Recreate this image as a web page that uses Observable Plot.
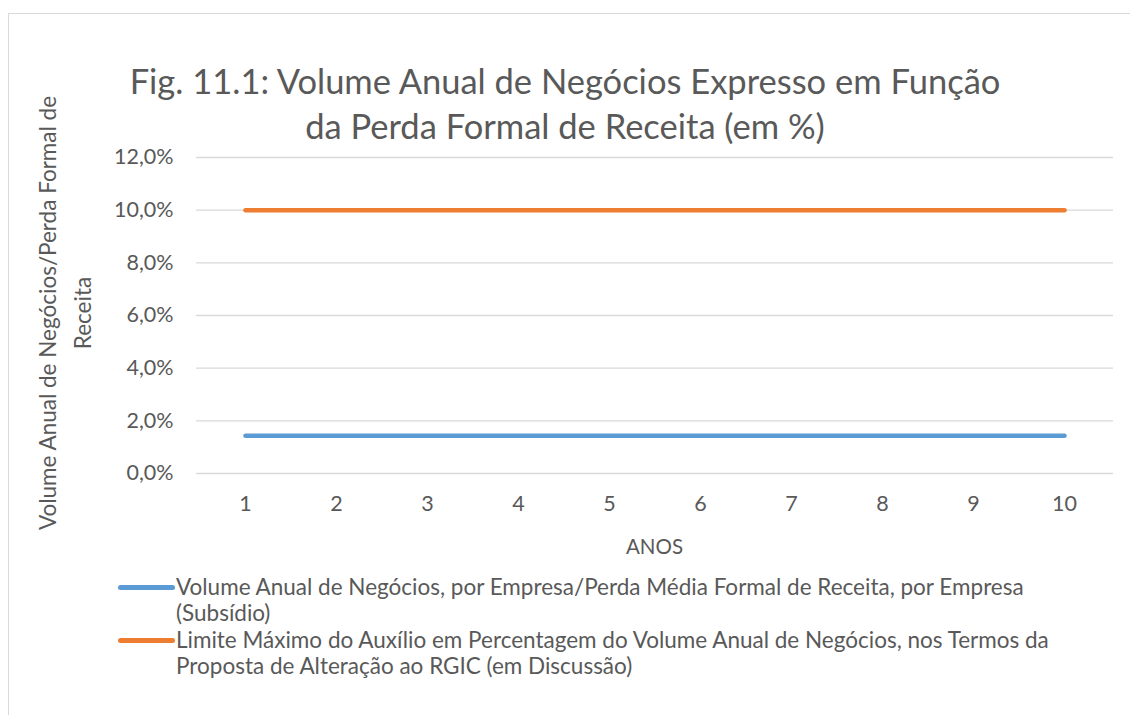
<!DOCTYPE html>
<html><head><meta charset="utf-8">
<script src="https://cdn.jsdelivr.net/npm/d3@7"></script>
<script src="https://cdn.jsdelivr.net/npm/@observablehq/plot@0.6"></script>
<style>
body{margin:0;background:#fff;}
#wrap{position:relative;width:1130px;height:715px;overflow:hidden;font-family:Lato,"Open Sans",sans-serif;color:#595959;background:#fff;}
#frame{position:absolute;left:8px;top:13px;width:1140px;height:720px;border:1px solid #d9d9d9;box-sizing:border-box;}
#title{position:absolute;left:0;width:1130px;top:58px;text-align:center;font-size:34.5px;line-height:45px;white-space:nowrap;}
#ylabel{position:absolute;width:600px;height:70px;left:-235.5px;top:278px;transform:rotate(-90deg);text-align:center;font-size:22.5px;line-height:35px;white-space:nowrap;}
#xlabel{position:absolute;left:554.5px;width:200px;top:533px;text-align:center;font-size:20.5px;line-height:26px;}
#chart{position:absolute;left:0;top:0;}
#chart svg text{font-size:21.5px;}
#legend{position:absolute;left:118px;top:574px;font-size:22.5px;line-height:26px;}
.item{position:relative;padding-left:58px;margin-bottom:1px;white-space:nowrap;}
.sw{position:absolute;left:0;top:11px;width:57px;height:5px;border-radius:3px;}
</style>
</head><body>
<div id="wrap">
  <div id="frame"></div>
  <div id="chart"></div>
  <div id="title"></div>
  <div id="ylabel"></div>
  <div id="xlabel"></div>
  <div id="legend"></div>
</div>
<script>
const titleLines = ["Fig. 11.1: Volume Anual de Negócios Expresso em Função", "da Perda Formal de Receita (em %)"];
const yLabelLines = ["Volume Anual de Negócios/Perda Formal de", "Receita"];
const xLabel = "ANOS";
const years = [1, 2, 3, 4, 5, 6, 7, 8, 9, 10];
const yTicks = [0, 2, 4, 6, 8, 10, 12];
const seriesNames = [
  "Volume Anual de Negócios, por Empresa/Perda Média Formal de Receita, por Empresa (Subsídio)",
  "Limite Máximo do Auxílio em Percentagem do Volume Anual de Negócios, nos Termos da Proposta de Alteração ao RGIC (em Discussão)"
];
const legendLines = [
  ["Volume Anual de Negócios, por Empresa/Perda Média Formal de Receita, por Empresa", "(Subsídio)"],
  ["Limite Máximo do Auxílio em Percentagem do Volume Anual de Negócios, nos Termos da", "Proposta de Alteração ao RGIC (em Discussão)"]
];
const subsidio = [1.43, 1.43, 1.43, 1.43, 1.43, 1.43, 1.43, 1.43, 1.43, 1.43];
const limite = [10, 10, 10, 10, 10, 10, 10, 10, 10, 10];
const colors = ["#5B9BD5", "#ED7D31"];

const data = [];
years.forEach((y, i) => data.push({ano: y, valor: subsidio[i], serie: seriesNames[0]}));
years.forEach((y, i) => data.push({ano: y, valor: limite[i], serie: seriesNames[1]}));

const fmt = d => d.toFixed(1).replace(".", ",") + "%";

const plot = Plot.plot({
  width: 1130,
  height: 560,
  marginTop: 157,
  marginBottom: 87,
  marginLeft: 196,
  marginRight: 17,
  style: {fontFamily: "Lato, 'Open Sans', sans-serif", fontSize: "21px", color: "#595959", background: "transparent"},
  x: {type: "point", domain: years, padding: 0.5, label: null},
  y: {domain: [0, 12], label: null},
  color: {domain: seriesNames, range: colors},
  marks: [
    Plot.gridY(yTicks, {stroke: "#d9d9d9", strokeOpacity: 1, strokeWidth: 1.3}),
    Plot.axisY(yTicks, {tickSize: 0, tickPadding: 23, tickFormat: fmt, label: null}),
    Plot.axisX(years, {tickSize: 0, tickPadding: 22, label: null}),
    Plot.line(data, {x: "ano", y: "valor", z: "serie", stroke: "serie", strokeWidth: 4.5, strokeLinecap: "round"})
  ]
});
document.getElementById("chart").appendChild(plot);

document.getElementById("title").innerHTML = titleLines.join("<br>");
document.getElementById("ylabel").innerHTML = yLabelLines.join("<br>");
document.getElementById("xlabel").textContent = xLabel;

const cs = plot.scale("color");
const leg = document.getElementById("legend");
seriesNames.forEach((name, i) => {
  const div = document.createElement("div");
  div.className = "item";
  const sw = document.createElement("span");
  sw.className = "sw";
  sw.style.background = cs.range[cs.domain.indexOf(name)];
  div.appendChild(sw);
  const t = document.createElement("span");
  t.innerHTML = legendLines[i].join("<br>");
  div.appendChild(t);
  leg.appendChild(div);
});
</script>
</body></html>
